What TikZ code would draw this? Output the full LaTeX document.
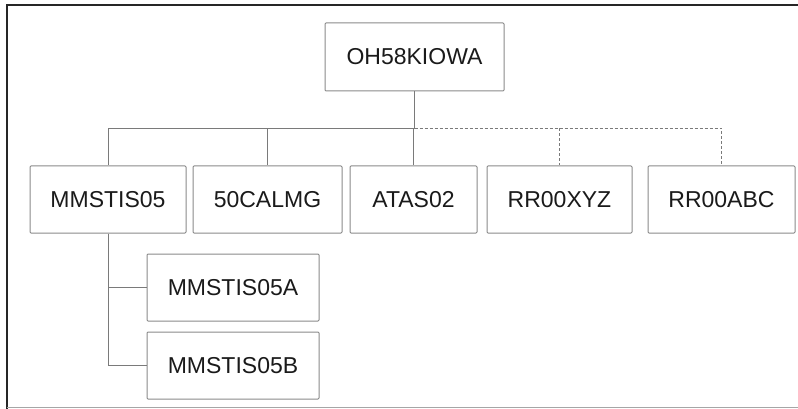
\documentclass[tikz,border=0pt]{standalone}
\usepackage{fontspec}
\setmainfont{Liberation Sans}
\usetikzlibrary{positioning}
\definecolor{boxgray}{HTML}{8A8A8A}
\definecolor{linegray}{HTML}{7A7A7A}
\definecolor{textdark}{HTML}{1A1A1A}
\tikzset{
  box/.style={draw=boxgray, rectangle, rounded corners=1pt, align=center, inner sep=0pt, minimum height=67pt, font=\fontsize{23}{27}\selectfont, text=textdark, line width=1pt, fill=white},
  link/.style={draw=linegray, line width=1pt},
  optlink/.style={link, dash pattern=on 3pt off 2pt}
}
\begin{document}
\begin{tikzpicture}[x=1pt, y=-1pt]
\useasboundingbox (0,0) rectangle (798,409);

% frame
\draw[draw=black!85, line width=2pt] (6.5,409) -- (6.5,5) -- (798,5);
\draw[draw=black!35, line width=1pt] (6.5,407.5) -- (798,407.5);

\node[box, minimum width=179pt, minimum height=68pt] (root) at (414.5,57) {OH58KIOWA};

\node[box, below=74pt of root, xshift=-306.5pt, minimum width=156pt] (mm) {MMSTIS05};
\node[box, below=74pt of root, xshift=-147pt, minimum width=149pt] (cal) {50CALMG};
\node[box, below=74pt of root, xshift=-1pt, minimum width=127pt] (atas) {ATAS02};
\node[box, below=74pt of root, xshift=145pt, minimum width=145pt] (xyz) {RR00XYZ};
\node[box, below=74pt of root, xshift=307pt, minimum width=147pt] (abc) {RR00ABC};

\node[box, below=20pt of mm, xshift=125pt, minimum width=172pt] (mma) {MMSTIS05A};
\node[box, below=10pt of mma, minimum width=172pt] (mmb) {MMSTIS05B};

\coordinate[below=37pt of root] (bus);

\draw[link] (root.south) -- (bus);
\draw[link] (bus) -- (bus -| mm.north) -- (mm.north);
\draw[link] (bus -| cal.north) -- (cal.north);
\draw[link] (bus -| atas.north) -- (atas.north);
\draw[optlink] (bus) -- (bus -| abc.north) -- (abc.north);
\draw[optlink] (bus -| xyz.north) -- (xyz.north);

\draw[link] (mm.south) |- (mma.west);
\draw[link] (mm.south) |- (mmb.west);

\end{tikzpicture}
\end{document}
